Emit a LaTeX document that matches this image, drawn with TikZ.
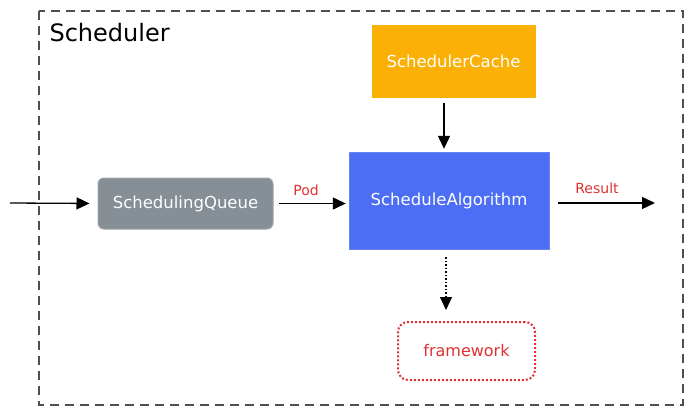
\documentclass[tikz,border=0pt]{standalone}
\usepackage{fontspec}
\setmainfont{DejaVu Sans}
\usetikzlibrary{arrows.meta}
\definecolor{cacheorange}{HTML}{FAB005}
\definecolor{algoblue}{HTML}{4C6EF5}
\definecolor{queuegray}{HTML}{868E96}
\definecolor{labelred}{HTML}{E03131}
\definecolor{framegray}{HTML}{495057}
\tikzset{
  boxtext/.style={text=white,font=\fontsize{16.5}{18}\selectfont,inner sep=0pt},
  cachebox/.style={boxtext,fill=cacheorange,draw=cacheorange,minimum width=163pt,minimum height=72pt},
  algobox/.style={boxtext,fill=algoblue,draw=algoblue!85!white,minimum width=200pt,minimum height=97pt},
  queuebox/.style={boxtext,fill=queuegray,draw=queuegray!80!white,line width=1pt,rounded corners=6pt,minimum width=175pt,minimum height=51pt},
  fwbox/.style={text=labelred,font=\fontsize{16}{18}\selectfont,draw=labelred,line width=2pt,dotted,rounded corners=10pt,minimum width=137pt,minimum height=58pt},
  conn/.style={line width=1.3pt,-{Triangle[length=13pt,width=12pt]}},
  edgelabel/.style={text=labelred,font=\fontsize{14}{16}\selectfont},
}
\begin{document}
\begin{tikzpicture}[x=1pt,y=-1pt]
\useasboundingbox (0,0) rectangle (692,415);
\draw[framegray,line width=1.8pt,dash pattern=on 9pt off 6pt] (39,11) rectangle (683,405);
\node[anchor=west,font=\fontsize{24}{26}\selectfont] (title) at (46,33) {Scheduler};
\node[cachebox] (cache) at (453.5,61) {SchedulerCache};
\node[algobox] (algo) at (449,200.5) {ScheduleAlgorithm};
\node[queuebox] (queue) at (185.5,203.5) {SchedulingQueue};
\node[fwbox] (fw) at (466.5,351) {framework};
\coordinate (in) at (10,203);
\coordinate (res) at (655,203);
\draw[conn,shorten >=8pt] (in) -- (queue.west);
\draw[conn,shorten <=5pt,shorten >=3pt] (queue.east) -- (algo.west |- queue.east);
\draw[conn,shorten <=9pt] (algo.east |- res) -- (res);
\draw[conn,shorten <=6pt,shorten >=3pt] ([xshift=-9.5pt]cache.south) -- ([xshift=-5pt]algo.north);
\draw[line width=1.5pt,dotted,shorten <=8pt,shorten >=11pt,-{Triangle[length=13pt,width=12pt,line width=1pt]}] ([xshift=-3pt]algo.south) -- ([xshift=-20.5pt]fw.north);
\node[edgelabel] (podlabel) at (306,190) {Pod};
\node[edgelabel] (reslabel) at (597,188) {Result};
\end{tikzpicture}
\end{document}
